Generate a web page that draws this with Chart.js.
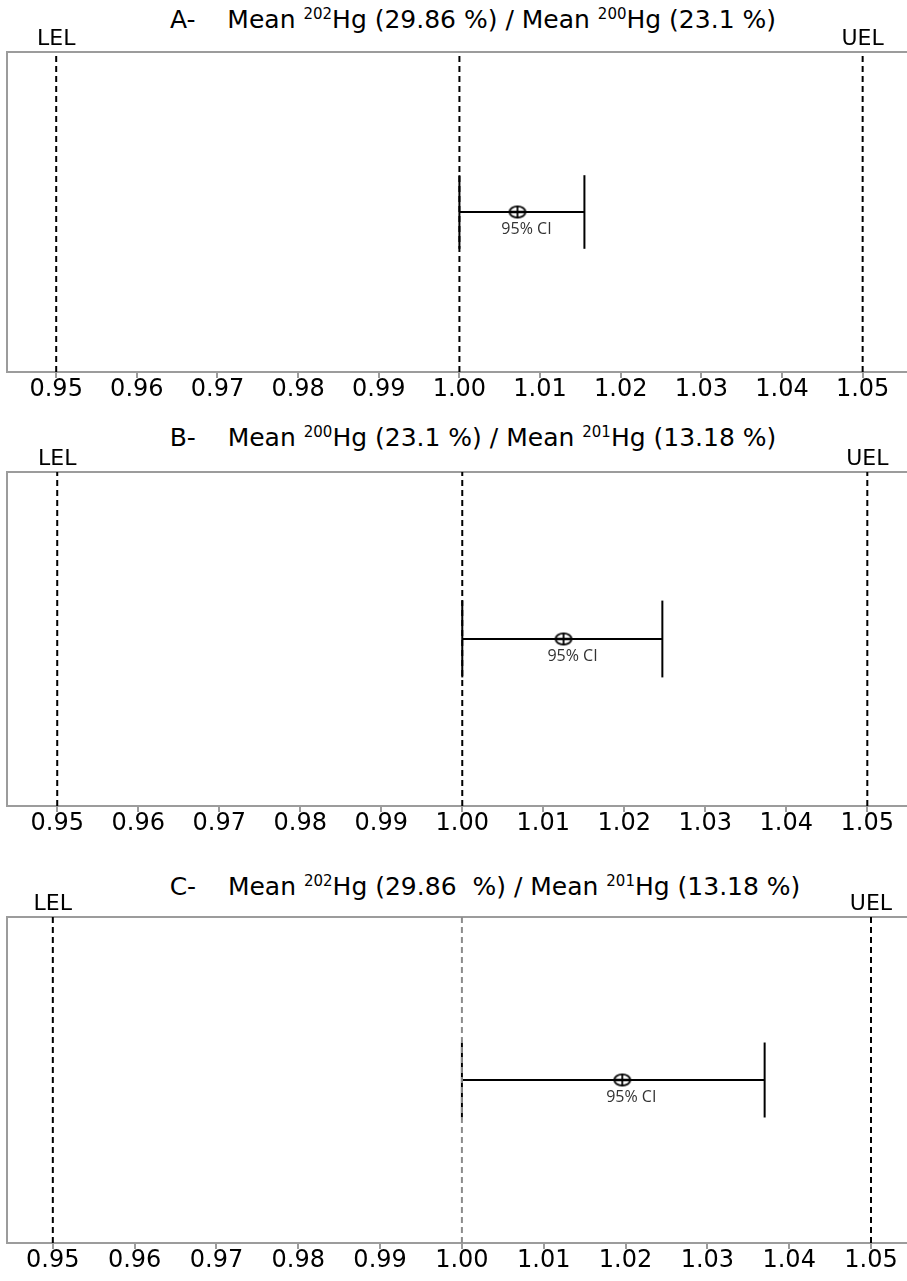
<!DOCTYPE html>
<html>
<head>
<meta charset="utf-8">
<title>Relaciones isotópicas Hg</title>
<script src="https://cdn.jsdelivr.net/npm/chart.js@4.4.1/dist/chart.umd.min.js"></script>
<style>
    html, body { margin: 0; padding: 0; background: #fff; }
    #lienzo { position: relative; width: 907px; height: 1281px; overflow: hidden; }
    .titulo { position: absolute; width: 2000px; height: 30px; line-height: 30px; text-align: center;
              font-family: "DejaVu Sans", sans-serif; font-size: 25px; color: #000; white-space: pre; }
    .titulo sup { font-size: 15px; vertical-align: 0; position: relative; top: -9px; }
    .panel { position: absolute; left: 0; }
</style>
</head>
<body>
<div id="lienzo">
    <div class="titulo" style="top:5px;left:-527px;">A-    Mean <sup>202</sup>Hg (29.86 %) / Mean <sup>200</sup>Hg (23.1 %)</div>
    <div class="titulo" style="top:423px;left:-527px;">B-    Mean <sup>200</sup>Hg (23.1 %) / Mean <sup>201</sup>Hg (13.18 %)</div>
    <div class="titulo" style="top:872px;left:-515px;">C-    Mean <sup>202</sup>Hg (29.86  %) / Mean <sup>201</sup>Hg (13.18 %)</div>
    <canvas id="graficoA" class="panel" width="907" height="380" style="top:28px;"></canvas>
    <canvas id="graficoB" class="panel" width="907" height="394" style="top:448px;"></canvas>
    <canvas id="graficoC" class="panel" width="907" height="386" style="top:893px;"></canvas>
</div>
<script>
    // datos
    var paneles = ["A", "B", "C"];
    var mediaRatio = [1.0072, 1.0125, 1.0196];
    var ciInferior = [1.0000, 1.0000, 1.0000];
    var ciSuperior = [1.0155, 1.0247, 1.0370];
    var limites = [0.95, 1.05];          // LEL, UEL
    var etiquetasLimite = ["LEL", "UEL"];
    var valorReferencia = 1.00;
    var ticksX = [0.95, 0.96, 0.97, 0.98, 0.99, 1.00, 1.01, 1.02, 1.03, 1.04, 1.05];
    var ejeMin = [0.9439, 0.9438, 0.9444];
    var ejeMax = [1.0555, 1.0549, 1.0544];
    var colorReferencia = ["#000000", "#000000", "#8c8c8c"];

    var COLOR_MARCO = "#9c9c9c";
    var MEDIO_CAP = 0.115;

    // simbolo de la media: elipse con cruz
    function crearSimbolo() {
        var c = document.createElement("canvas");
        c.width = 20; c.height = 15;
        var g = c.getContext("2d");
        g.fillStyle = "#fff";
        g.strokeStyle = "#000";
        g.lineWidth = 1.8;
        g.beginPath();
        g.ellipse(10, 7.5, 8, 5.6, 0, 0, Math.PI * 2);
        g.fill();
        g.stroke();
        g.beginPath();
        g.moveTo(2, 7.5); g.lineTo(18, 7.5);
        g.moveTo(10, 1.5); g.lineTo(10, 13.5);
        g.stroke();
        return c;
    }
    var simbolo = crearSimbolo();

    var marcoPlugin = {
        id: "marco",
        beforeDatasetsDraw: function (chart) {
            var ctx = chart.ctx, a = chart.chartArea;
            ctx.save();
            ctx.strokeStyle = COLOR_MARCO;
            ctx.lineWidth = 2;
            ctx.beginPath();
            ctx.moveTo(a.left, a.bottom);
            ctx.lineTo(a.left, a.top);
            ctx.lineTo(chart.width, a.top);
            ctx.stroke();
            ctx.restore();
        },
        afterDatasetsDraw: function (chart) {
            var ctx = chart.ctx, a = chart.chartArea;
            var x = chart.scales.x, y = chart.scales.y;
            var i = chart.options.plugins.marco.indice;
            ctx.save();
            ctx.fillStyle = "#000";
            ctx.textAlign = "center";
            ctx.textBaseline = "middle";
            ctx.font = '22px "DejaVu Sans"';
            for (var k = 0; k < limites.length; k++) {
                ctx.fillText(etiquetasLimite[k], x.getPixelForValue(limites[k]), a.top - 13);
            }
            ctx.font = '16px "Open Sans"';
            ctx.fillStyle = "#333";
            ctx.fillText("95% CI", x.getPixelForValue(mediaRatio[i]) + 9, y.getPixelForValue(0.5) + 17);
            ctx.restore();
        }
    };

    function lineaVertical(valor, color) {
        return {
            data: [{ x: valor, y: 0 }, { x: valor, y: 1 }],
            showLine: true, borderColor: color, borderWidth: 2, borderDash: [6, 4],
            pointRadius: 0
        };
    }

    function tramo(p1, p2) {
        return {
            data: [p1, p2],
            showLine: true, borderColor: "#000", borderWidth: 2,
            pointRadius: 0
        };
    }

    function crearGrafico(i) {
        var ctx = document.getElementById("grafico" + paneles[i]).getContext("2d");
        var dataT = {
            datasets: [
                lineaVertical(limites[0], "#000"),
                lineaVertical(valorReferencia, colorReferencia[i]),
                lineaVertical(limites[1], "#000"),
                tramo({ x: ciInferior[i], y: 0.5 }, { x: ciSuperior[i], y: 0.5 }),
                tramo({ x: ciInferior[i], y: 0.5 - MEDIO_CAP }, { x: ciInferior[i], y: 0.5 + MEDIO_CAP }),
                tramo({ x: ciSuperior[i], y: 0.5 - MEDIO_CAP }, { x: ciSuperior[i], y: 0.5 + MEDIO_CAP }),
                {
                    data: [{ x: mediaRatio[i], y: 0.5 }],
                    pointStyle: simbolo, pointRadius: 8
                }
            ]
        };
        return new Chart(ctx, {
            type: "scatter",
            data: dataT,
            plugins: [marcoPlugin],
            options: {
                responsive: false,
                animation: false,
                devicePixelRatio: 1,
                layout: { autoPadding: false, padding: { left: 7, right: 0, top: 24, bottom: 0 } },
                plugins: {
                    legend: { display: false },
                    tooltip: { enabled: false },
                    marco: { indice: i }
                },
                scales: {
                    x: {
                        type: "linear",
                        min: ejeMin[i],
                        max: ejeMax[i],
                        afterBuildTicks: function (scale) {
                            scale.ticks = ticksX.map(function (v) { return { value: v }; });
                        },
                        afterFit: function (scale) {
                            scale.height = 36;
                            scale.paddingLeft = 0;
                            scale.paddingRight = 0;
                        },
                        grid: { drawOnChartArea: false, drawTicks: true, tickLength: 6, color: COLOR_MARCO, lineWidth: 2 },
                        border: { color: COLOR_MARCO, width: 2 },
                        ticks: {
                            autoSkip: false,
                            maxRotation: 0,
                            padding: 0,
                            color: "#000",
                            font: { family: '"DejaVu Sans"', size: 24, lineHeight: 1 },
                            callback: function (value) { return Number(value).toFixed(2); }
                        }
                    },
                    y: { display: false, min: 0, max: 1 }
                }
            }
        });
    }

    window.onload = function () {
        for (var i = 0; i < paneles.length; i++) {
            crearGrafico(i);
        }
    };
</script>
</body>
</html>
